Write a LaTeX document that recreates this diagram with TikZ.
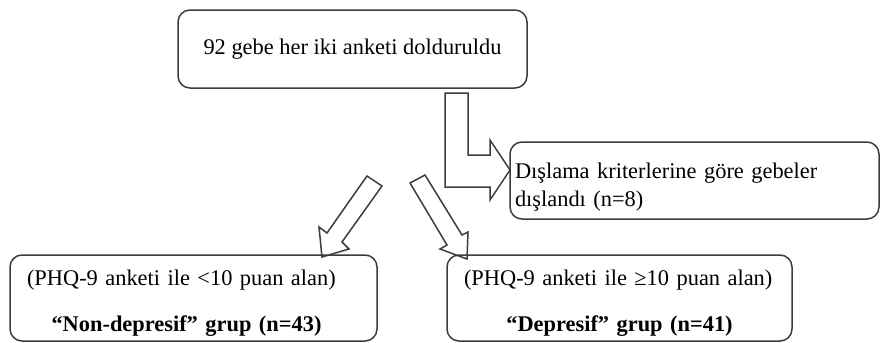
\documentclass[tikz,border=0pt]{standalone}
\usepackage{fontspec}
\setmainfont{Liberation Serif}
\usepackage{tikz}
\usepackage{xcolor}
\usetikzlibrary{positioning}
\definecolor{Edge}{HTML}{3C3C3C}

\begin{document}
\begin{tikzpicture}[x=0.5pt,y=-0.5pt,
  box/.style={draw=Edge,line width=0.75pt,rounded corners=6pt,inner sep=0pt},
  blockarrow/.style={draw=Edge,line width=0.75pt,line join=miter}]
  \useasboundingbox (0,0) rectangle (880,343);
  % boxes
  \node[box,minimum width=174.5pt,minimum height=39pt,font=\fontsize{11.2}{14}\selectfont] (total) at (352.5,49) {92 gebe her iki anketi dolduruldu};
  \node[box,minimum width=184.5pt,minimum height=38.5pt,text width=179.5pt,align=left,font=\fontsize{11.2}{14}\selectfont] (excluded) at (694.5,180.5) {\rule{0pt}{13.9pt}Dışlama kriterlerine göre gebeler\\dışlandı (n=8)};
  \node[box,minimum width=183.5pt,minimum height=43pt,text width=166.5pt,align=left,font=\fontsize{11.2}{23}\selectfont] (nondep) at (193.5,298) {\rule{0pt}{13.4pt}(PHQ-9 anketi ile <10 puan alan)\\\makebox[\hsize]{\bfseries “Non-depresif” grup (n=43)\hspace{7pt}}};
  \node[box,minimum width=172.5pt,minimum height=43pt,text width=155.5pt,align=left,font=\fontsize{11.2}{23}\selectfont] (dep) at (619.5,298) {\rule{0pt}{13.4pt}(PHQ-9 anketi ile ≥10 puan alan)\\\makebox[\hsize]{\bfseries “Depresif” grup (n=41)}};
  % block arrows
  \draw[blockarrow] (445,93) -- (468,93) -- (468,155) -- (490,155) -- (490,140) -- (510,170) -- (490,200) -- (490,187) -- (445,187) -- cycle;
  \draw[blockarrow] (367,176) -- (382,186) -- (342,242) -- (349,249) -- (322,257) -- (319,227) -- (327,233) -- cycle;
  \draw[blockarrow] (410,183) -- (425,175) -- (462,235) -- (468,232) -- (467,259) -- (440,249) -- (447,245) -- cycle;
\end{tikzpicture}
\end{document}
